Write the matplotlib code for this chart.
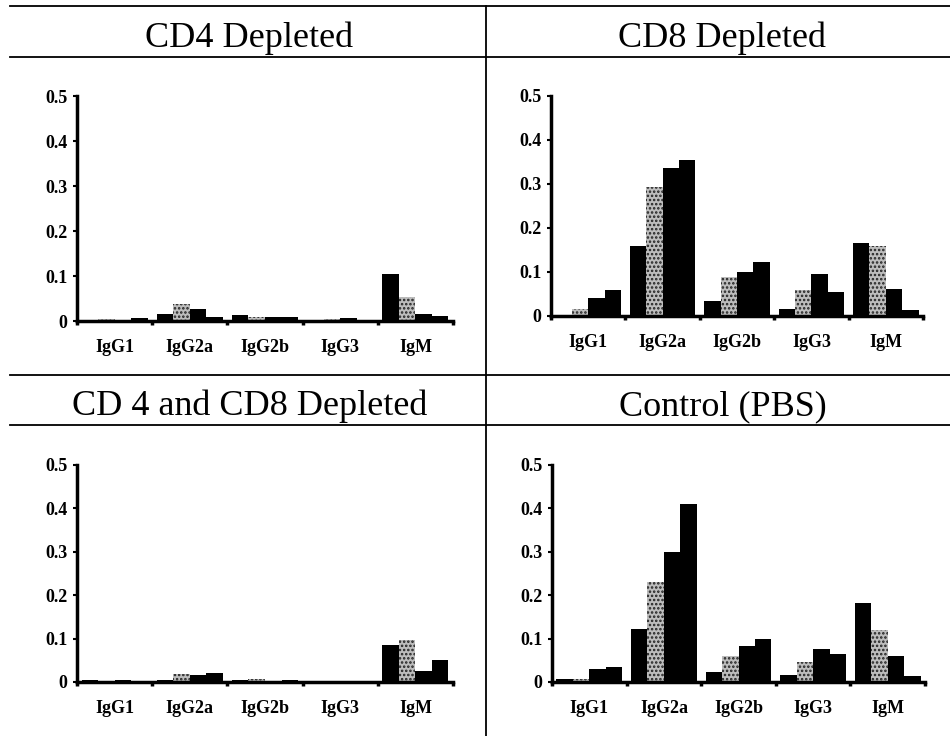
#!/usr/bin/env python
# coding=utf-8

import matplotlib
matplotlib.use('Agg')
import matplotlib.pyplot as plt
from matplotlib.lines import Line2D

groups = ['IgG1', 'IgG2a', 'IgG2b', 'IgG3', 'IgM']
yticks = [0, 0.1, 0.2, 0.3, 0.4, 0.5]
yticklabels = ['0', '0.1', '0.2', '0.3', '0.4', '0.5']

# four bars per group
cd4_depleted = [
	[0.002, 0.004, 0.003, 0.006],
	[0.015, 0.038, 0.027, 0.010],
	[0.013, 0.008, 0.008, 0.008],
	[0.002, 0.005, 0.007, 0.002],
	[0.105, 0.053, 0.016, 0.012],
]
cd8_depleted = [
	[0.002, 0.015, 0.042, 0.060],
	[0.158, 0.293, 0.336, 0.354],
	[0.033, 0.089, 0.101, 0.122],
	[0.015, 0.059, 0.095, 0.054],
	[0.165, 0.159, 0.062, 0.014],
]
cd4_cd8_depleted = [
	[0.004, 0.002, 0.004, 0.002],
	[0.004, 0.018, 0.015, 0.021],
	[0.004, 0.006, 0.003, 0.005],
	[0.003, 0.002, 0.002, 0.002],
	[0.085, 0.096, 0.025, 0.051],
]
control_pbs = [
	[0.006, 0.008, 0.029, 0.034],
	[0.123, 0.230, 0.300, 0.410],
	[0.023, 0.060, 0.082, 0.098],
	[0.016, 0.046, 0.077, 0.064],
	[0.182, 0.119, 0.061, 0.014],
]

W, H = 950.0, 736.0
plt.rcParams['font.family'] = ['Liberation Serif', 'DejaVu Serif']
plt.rcParams['hatch.linewidth'] = 1.2

fig = plt.figure(figsize=(9.5, 7.36), dpi=100)

def px_axes(x0, x1, ytop, ybot):
	# pixel box -> figure fraction
	return fig.add_axes([x0 / W, 1 - ybot / H, (x1 - x0) / W, (ybot - ytop) / H])

def hline(y, x0=10, x1=950):
	fig.add_artist(Line2D([x0 / W, x1 / W], [1 - y / H, 1 - y / H], color='black', lw=1.3))

def vline(x, y0, y1):
	fig.add_artist(Line2D([x / W, x / W], [1 - y0 / H, 1 - y1 / H], color='black', lw=1.3))

def panel(ax, data):
	width = 0.22
	for i, vals in enumerate(data):
		for j, v in enumerate(vals):
			left = i + 0.06 + j * width
			if j == 1:
				ax.bar(left, v, width=width, align='edge', color='#bdbdbd',
					hatch='....', edgecolor='#222222', lw=0)
			else:
				ax.bar(left, v, width=width, align='edge', color='black', lw=0)
	ax.set_xlim(0, 5)
	ax.set_ylim(0, 0.5)
	for s in ['top', 'right']:
		ax.spines[s].set_visible(False)
	for s in ['left', 'bottom']:
		ax.spines[s].set_linewidth(2.5)
	ax.set_xticks(range(6))
	ax.set_xticklabels([])
	ax.tick_params(axis='x', which='major', direction='out', length=3, width=2.5)
	ax.set_xticks([i + 0.5 for i in range(5)], minor=True)
	ax.set_xticklabels(groups, minor=True, fontsize=13, fontweight='bold')
	ax.tick_params(axis='x', which='minor', length=0, pad=13)
	ax.set_yticks(yticks)
	ax.set_yticklabels(yticklabels, fontsize=13, fontweight='bold')
	ax.tick_params(axis='y', direction='out', length=3, width=1.5, pad=4)

def title(x, y, text):
	fig.text(x / W, 1 - y / H, text, ha='center', va='baseline', fontsize=26)

# frame lines
hline(6)
hline(57)
hline(375)
hline(425)
vline(486, 6, 736)

title(249, 47, 'CD4 Depleted')
title(722, 47, 'CD8 Depleted')
title(250, 415, 'CD 4 and CD8 Depleted')
title(723, 415, 'Control (PBS)')

panel(px_axes(77, 453, 96, 321), cd4_depleted)
panel(px_axes(551, 923, 96, 316), cd8_depleted)
panel(px_axes(77, 453, 465, 682), cd4_cd8_depleted)
panel(px_axes(552, 925, 465, 682), control_pbs)

plt.savefig('out.png', dpi=100)
